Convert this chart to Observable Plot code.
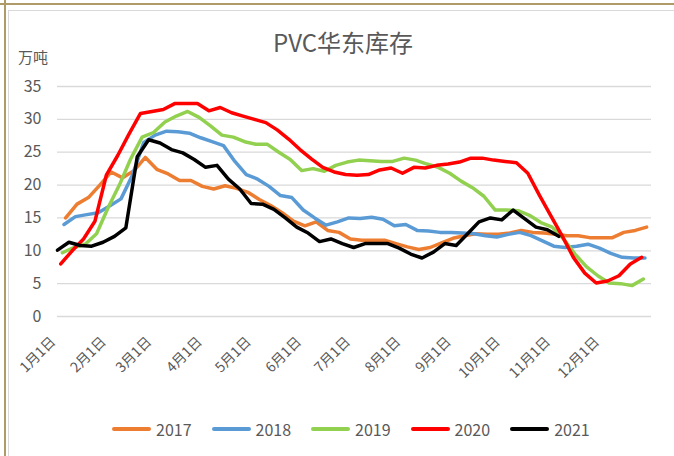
<!DOCTYPE html>
<html><head><meta charset="utf-8">
<script src="https://cdn.jsdelivr.net/npm/d3@7"></script>
<script src="https://cdn.jsdelivr.net/npm/@observablehq/plot@0.6"></script>
<style>
body{margin:0;background:#fff;}
#wrap{position:relative;width:674px;height:456px;overflow:hidden;font-family:"Noto Sans CJK SC","Noto Sans",sans-serif;color:#595959;background:#fff;}
#chart{position:absolute;left:0;top:0;}
.ln{position:absolute;}
#title{position:absolute;left:0;width:686px;top:24px;text-align:center;font-size:24px;color:#595959;}
#unit{position:absolute;left:18px;top:46px;font-size:15px;color:#595959;}
#legend{position:absolute;left:112px;top:417px;display:flex;align-items:center;font-size:16px;color:#595959;}
.item{display:flex;align-items:center;margin-right:20px;}
.sw{width:39px;height:4px;border-radius:2px;margin-right:5px;}
</style></head><body>
<div id="wrap">
  <div class="ln" style="left:0;top:3px;width:674px;height:2px;background:#b09a68"></div>
  <div class="ln" style="left:4px;top:0;width:2px;height:456px;background:#b09a68"></div>
  <div class="ln" style="left:8px;top:10px;width:666px;height:1px;background:#d9d9d9"></div>
  <div class="ln" style="left:8px;top:10px;width:1px;height:446px;background:#d9d9d9"></div>
  <div id="chart"></div>
  <div id="title">PVC华东库存</div>
  <div id="unit">万吨</div>
  <div id="legend"></div>
</div>
<script>
const years = ["2017", "2018", "2019", "2020", "2021"];
const colors = ["#ED7D31", "#5B9BD5", "#92D050", "#FF0000", "#000000"];
// first weekly (Friday) observation day in January of each year
const firstDay = [6, 5, 4, 3, 1];
const v2017 = [15.0,17.1,18.1,20.0,22.0,21.1,22.2,24.2,22.4,21.7,20.7,20.7,19.8,19.4,19.9,19.5,18.9,17.8,16.9,15.8,14.5,13.8,14.4,13.1,12.8,11.8,11.6,11.6,11.6,11.1,10.6,10.2,10.5,11.2,11.9,12.3,12.6,12.5,12.5,12.7,13.1,12.8,12.7,12.5,12.3,12.3,12.0,12.0,12.0,12.8,13.1,13.6];
const v2018 = [14.0,15.2,15.5,15.8,16.8,17.9,21.5,26.5,27.6,28.2,28.1,27.9,27.2,26.6,26.0,23.6,21.6,20.9,19.8,18.4,18.1,16.2,15.0,13.9,14.4,15.0,14.9,15.1,14.8,13.8,14.0,13.1,13.0,12.8,12.8,12.7,12.6,12.3,12.1,12.5,12.8,12.3,11.5,10.7,10.5,10.7,11.0,10.4,9.6,9.0,8.9,8.9];
const v2019 = [9.7,10.5,11.0,12.6,16.5,20.0,24.0,27.3,28.0,29.6,30.5,31.2,30.3,29.0,27.6,27.3,26.6,26.2,26.2,25.0,23.9,22.2,22.5,22.1,23.0,23.5,23.8,23.7,23.6,23.6,24.1,23.8,23.2,22.7,21.8,20.6,19.6,18.3,16.2,16.2,16.1,15.4,14.3,13.6,11.8,9.5,7.6,6.2,5.1,5.0,4.7,5.7];
const v2020 = [8.0,10.0,11.8,14.5,21.5,24.5,27.8,30.9,31.2,31.5,32.4,32.4,32.4,31.3,31.8,31.0,30.5,30.0,29.5,28.4,27.0,25.4,24.0,22.7,22.0,21.6,21.5,21.6,22.3,22.6,21.8,22.7,22.6,23.0,23.2,23.5,24.1,24.1,23.8,23.6,23.4,21.8,18.5,15.4,12.3,9.0,6.6,5.1,5.4,6.2,8.0,9.0];
const v2021 = [10.1,11.3,10.8,10.7,11.3,12.2,13.5,24.3,26.9,26.4,25.4,24.9,23.9,22.7,23.0,20.9,19.4,17.2,17.1,16.3,15.0,13.6,12.7,11.4,11.8,11.1,10.5,11.1,11.1,11.1,10.4,9.5,8.9,9.8,11.1,10.8,12.6,14.4,15.0,14.7,16.2,14.9,13.6,13.2,12.2];
const series = [v2017, v2018, v2019, v2020, v2021];
const monthLabels = ["1月1日","2月1日","3月1日","4月1日","5月1日","6月1日","7月1日","8月1日","9月1日","10月1日","11月1日","12月1日"];
const yTicks = [0, 5, 10, 15, 20, 25, 30, 35];

const data = [];
series.forEach((vals, s) => {
  vals.forEach((v, i) => {
    data.push({year: years[s], date: new Date(Date.UTC(2021, 0, firstDay[s] + 7 * i)), value: v});
  });
});
const monthTicks = monthLabels.map((t, m) => ({date: new Date(Date.UTC(2021, m, 1)), label: t}));

const chart = Plot.plot({
  width: 674,
  height: 456,
  marginLeft: 57,
  marginRight: 23,
  marginTop: 86,
  marginBottom: 140,
  style: {fontFamily: '"Noto Sans CJK SC","Noto Sans",sans-serif', background: "transparent"},
  x: {type: "utc", domain: [new Date(Date.UTC(2021, 0, 1)), new Date(Date.UTC(2022, 0, 1))], axis: null},
  y: {domain: [0, 35], axis: null},
  color: {domain: years, range: colors},
  marks: [
    Plot.ruleY(yTicks, {stroke: "#d9d9d9", strokeWidth: 1.3}),
    Plot.text(yTicks, {y: d => d, text: d => String(d), frameAnchor: "left", textAnchor: "end", dx: -16, fontSize: 16, fill: "#595959"}),
    Plot.text(monthTicks, {x: "date", text: "label", frameAnchor: "bottom", rotate: -45, textAnchor: "end", dy: 26, dx: -1, fontSize: 14, fill: "#595959"}),
    Plot.line(data, {x: "date", y: "value", z: "year", stroke: "year", strokeWidth: 3.5, strokeLinejoin: "round", strokeLinecap: "round"})
  ]
});
document.getElementById("chart").appendChild(chart);

const legend = document.getElementById("legend");
years.forEach((y, i) => {
  const it = document.createElement("div");
  it.className = "item";
  it.innerHTML = `<div class="sw" style="background:${colors[i]}"></div><span>${y}</span>`;
  legend.appendChild(it);
});
</script>
</body></html>
